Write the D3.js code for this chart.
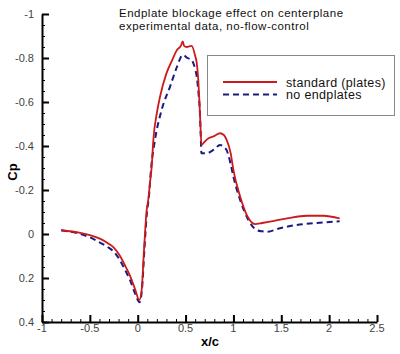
<!DOCTYPE html>
<html>
<head>
<meta charset="utf-8">
<script src="https://cdn.jsdelivr.net/npm/d3@7"></script>
<style>
  body { margin: 0; background: #fff; }
  svg { display: block; font-family: "Liberation Sans", Arial, sans-serif; }
</style>
</head>
<body>
<svg id="chart" width="400" height="354"></svg>
<script>
// x/c and Cp
const stdX = [-0.8, -0.6, -0.5, -0.39, -0.3, -0.25, -0.185, -0.13, -0.08, -0.028, 0.017, 0.042, 0.066, 0.094, 0.11, 0.13, 0.146, 0.163, 0.2, 0.233, 0.3, 0.36, 0.41, 0.45, 0.47, 0.485, 0.51, 0.564, 0.6, 0.617, 0.633, 0.645, 0.655, 0.666, 0.7, 0.74, 0.8, 0.86, 0.9, 0.93, 0.97, 1.0, 1.07, 1.14, 1.2, 1.226, 1.3, 1.38, 1.56, 1.77, 1.94, 2.11];
const stdCp = [-0.017, -0.005, 0.005, 0.022, 0.045, 0.062, 0.1, 0.145, 0.19, 0.25, 0.30, 0.25, 0.07, -0.11, -0.155, -0.24, -0.306, -0.427, -0.55, -0.624, -0.73, -0.79, -0.836, -0.855, -0.875, -0.855, -0.85, -0.855, -0.81, -0.777, -0.70, -0.60, -0.50, -0.405, -0.42, -0.435, -0.445, -0.458, -0.45, -0.427, -0.37, -0.29, -0.17, -0.086, -0.05, -0.045, -0.05, -0.056, -0.071, -0.083, -0.083, -0.071];

const noX = [-0.8, -0.6, -0.5, -0.39, -0.3, -0.25, -0.185, -0.13, -0.08, -0.028, 0.02, 0.045, 0.07, 0.097, 0.115, 0.14, 0.18, 0.25, 0.338, 0.41, 0.47, 0.52, 0.564, 0.6, 0.617, 0.635, 0.65, 0.658, 0.666, 0.72, 0.8, 0.86, 0.9, 0.93, 0.97, 1.0, 1.07, 1.156, 1.243, 1.3, 1.348, 1.487, 1.66, 1.835, 2.04, 2.11];
const noCp = [-0.017, 0.0, 0.015, 0.04, 0.063, 0.08, 0.12, 0.165, 0.21, 0.27, 0.31, 0.25, 0.07, -0.1, -0.16, -0.3, -0.427, -0.564, -0.67, -0.76, -0.814, -0.80, -0.79, -0.75, -0.715, -0.64, -0.55, -0.45, -0.367, -0.367, -0.385, -0.405, -0.395, -0.38, -0.32, -0.26, -0.155, -0.064, -0.018, -0.012, -0.01, -0.026, -0.041, -0.049, -0.056, -0.058];

const xTicks = [-1, -0.5, 0, 0.5, 1, 1.5, 2, 2.5];
const yTicks = [-1, -0.8, -0.6, -0.4, -0.2, 0, 0.2, 0.4];
const titleLines = ["Endplate blockage effect on centerplane", "experimental data, no-flow-control"];
const seriesNames = ["standard (plates)", "no endplates"];

const svg = d3.select("#chart");
const m = { left: 42, right: 377, top: 14, bottom: 322 };

const x = d3.scaleLinear().domain([-1, 2.5]).range([m.left, m.right]);
const y = d3.scaleLinear().domain([-1, 0.4]).range([m.top, m.bottom]);

// minor ticks
const xMinor = d3.range(-1, 2.5001, 0.1);
const yMinor = d3.range(-1, 0.4001, 0.05);

const gx = svg.append("g").attr("transform", "translate(0," + m.bottom + ")");
gx.call(d3.axisTop(x).tickValues(xMinor).tickSize(3).tickFormat(""));
gx.select(".domain").remove();
const gx2 = svg.append("g").attr("transform", "translate(0," + m.bottom + ")");
gx2.call(d3.axisTop(x).tickValues(xTicks).tickSize(7).tickSizeOuter(0).tickFormat(""));
gx2.select(".domain").attr("stroke-width", 2);
gx2.selectAll(".tick line").attr("stroke-width", 2);

svg.append("g").selectAll("text").data(xTicks).join("text")
  .attr("x", d => x(d)).attr("y", m.bottom + 10)
  .attr("text-anchor", "middle").attr("font-size", 11).attr("fill", "#444")
  .text(d => d);

const gy = svg.append("g").attr("transform", "translate(" + m.left + ",0)");
gy.call(d3.axisRight(y).tickValues(yMinor).tickSize(3).tickFormat(""));
gy.select(".domain").remove();
const gy2 = svg.append("g").attr("transform", "translate(" + m.left + ",0)");
gy2.call(d3.axisRight(y).tickValues(yTicks).tickSize(7).tickSizeOuter(0).tickFormat(""));
gy2.select(".domain").attr("stroke-width", 2);
gy2.selectAll(".tick line").attr("stroke-width", 2);

svg.append("g").selectAll("text").data(yTicks).join("text")
  .attr("x", m.left - 8).attr("y", d => y(d) + 4)
  .attr("text-anchor", "end").attr("font-size", 11).attr("fill", "#444")
  .text(d => d);

// axis titles
svg.append("text").attr("x", 210).attr("y", 346).attr("text-anchor", "middle")
  .attr("font-size", 13).attr("font-weight", "bold").text("x/c");
svg.append("text").attr("transform", "translate(17,172) rotate(-90)")
  .attr("text-anchor", "middle").attr("font-size", 13).attr("font-weight", "bold").text("Cp");

// title
svg.append("g").selectAll("text").data(titleLines).join("text")
  .attr("x", 119).attr("y", (d, i) => 16.5 + i * 13)
  .attr("font-size", 11.5).attr("letter-spacing", 0.5).attr("fill", "#111").text(d => d);

const line = d3.line().x(d => x(d[0])).y(d => y(d[1])).curve(d3.curveMonotoneX);

svg.append("path")
  .datum(d3.zip(noX, noCp))
  .attr("fill", "none").attr("stroke", "#1a1a80").attr("stroke-width", 2)
  .attr("stroke-dasharray", "6,4")
  .attr("d", line);

svg.append("path")
  .datum(d3.zip(stdX, stdCp))
  .attr("fill", "none").attr("stroke", "#cc1a1a").attr("stroke-width", 1.8)
  .attr("d", line);

// legend
const lg = svg.append("g");
lg.append("rect").attr("x", 207.5).attr("y", 55.5).attr("width", 187).attr("height", 60)
  .attr("fill", "#fff").attr("stroke", "#888").attr("stroke-width", 1);
const lstyles = [{ c: "#cc1a1a", dash: null }, { c: "#1a1a80", dash: "6,4" }];
seriesNames.forEach((name, i) => {
  const yy = 82 + i * 12.5;
  lg.append("line").attr("x1", 223).attr("x2", 277).attr("y1", yy).attr("y2", yy)
    .attr("stroke", lstyles[i].c).attr("stroke-width", 2)
    .attr("stroke-dasharray", lstyles[i].dash);
  lg.append("text").attr("x", 286).attr("y", yy + 4.5).attr("font-size", 12.5)
    .attr("letter-spacing", 0.35).attr("fill", "#111").text(name);
});
</script>
</body>
</html>
